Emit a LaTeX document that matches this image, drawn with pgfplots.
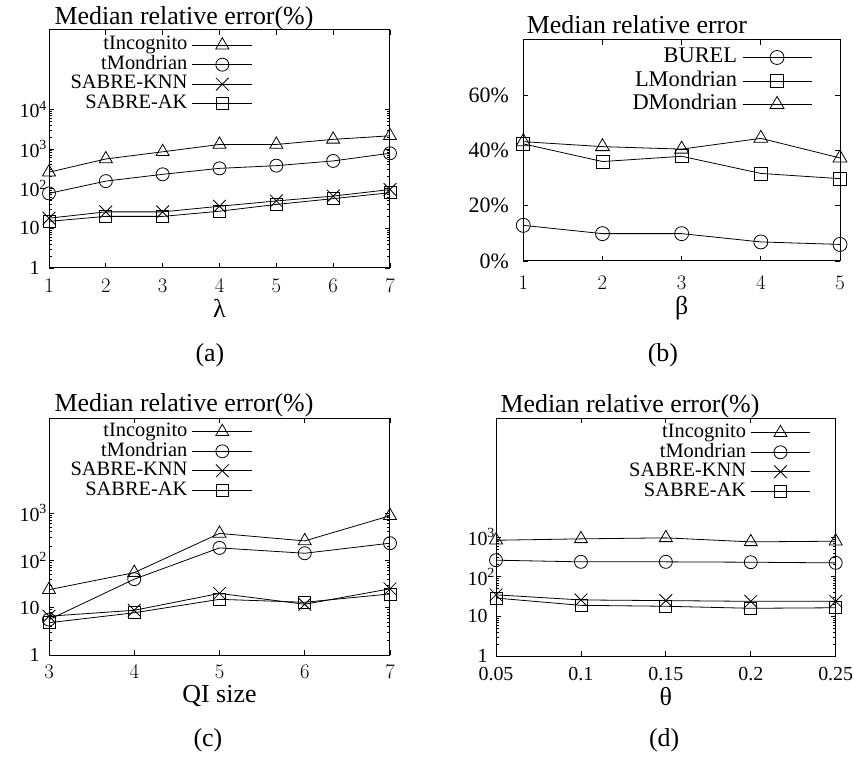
\documentclass[border=0pt]{standalone}
\usepackage{pgfplots}
\pgfplotsset{compat=1.18}
\usepackage{fontspec}
\setmainfont{Liberation Serif}

\newcommand\fs[1]{\fontsize{#1}{#1}\selectfont}
\newcommand\expo[1]{\rlap{\textsuperscript{#1}}}

\pgfplotsset{
  gp/.style={
    scale only axis,
    clip=false,
    axis line style={line width=1bp},
    tick style={line width=0.8bp, black},
    major tick length=5bp,
    tick align=inside,
    legend cell align=right,
    legend plot pos=right,
    x tick label style={font=\fs{20}},
    y tick label style={font=\fs{20}},
  },
  leg/.style 2 args={
    legend image code/.code={
      \draw[mark repeat=2, mark phase=2, ##1]
        plot coordinates {(0bp,0bp) (#1/2,0bp) (#1,0bp)};},
    legend style={draw=none, fill=none, anchor=north east, at={#2},
      font=\fs{20.5}, inner sep=0pt, row sep=0pt, column sep=4bp,
      nodes={inner sep=0.5bp, text height=14bp, text depth=4.5bp}},
  },
  ln/.style={black, line width=0.8bp, mark options={solid, black, line width=0.8bp, fill=none}},
  tri/.style={ln, mark=triangle, mark size=7.5bp},
  cir/.style={ln, mark=o, mark size=6.5bp},
  crs/.style={ln, mark=x, mark size=9bp},
  sqr/.style={ln, mark=square, mark size=6bp},
}

\begin{document}
\begin{tikzpicture}
\path[use as bounding box] (0,0) rectangle (854bp,764bp);

% (a) error against lambda
\begin{axis}[gp, at={(49bp,496bp)}, anchor=south west,
  width=341bp, height=238bp,
  xmin=1, xmax=7, xtick={1,...,7},
  ymode=log, ymin=1, ymax=1e6,
  ytick={1,10,100,1000,10000},
  yticklabels={1,10,10\expo{2},10\expo{3},10\expo{4}},
  x tick label style={yshift=-8bp},
  y tick label style={xshift=-6bp},
  leg={60bp}{(0.598,0.978)}]
\addplot[tri] coordinates {(1,260) (2,560) (3,850) (4,1300) (5,1300) (6,1750) (7,2150)};
\addlegendentry{tIncognito}
\addplot[cir] coordinates {(1,76) (2,155) (3,230) (4,325) (5,380) (6,500) (7,780)};
\addlegendentry{tMondrian}
\addplot[crs] coordinates {(1,18) (2,26) (3,26) (4,36) (5,49) (6,65) (7,95)};
\addlegendentry{SABRE-KNN}
\addplot[sqr] coordinates {(1,15) (2,20) (3,20) (4,27) (5,40) (6,56) (7,79)};
\addlegendentry{SABRE-AK}
\node[anchor=base west, font=\fs{26}, xshift=2bp, yshift=5bp] at (rel axis cs:0,1) {Median relative error(\%)};
\node[anchor=base, font=\fs{26}, yshift=-50bp] at (rel axis cs:0.5,0) {λ};
\node[anchor=base, font=\fs{26}, yshift=-93.6bp] at (rel axis cs:0.472,0) {(a)};
\end{axis}

% (b) error against beta
\begin{axis}[gp, at={(523.3bp,503bp)}, anchor=south west,
  width=316.7bp, height=221bp,
  xmin=1, xmax=5, xtick={1,...,5},
  ymin=0, ymax=80, ytick={0,20,40,60},
  yticklabels={0\%,20\%,40\%,60\%},
  x tick label style={font=\fs{22}, yshift=-12bp},
  y tick label style={font=\fs{22}, xshift=-11bp},
  leg={69bp}{(0.912,0.975)},
  legend style={font=\fs{22.5}, nodes={inner sep=1bp, text height=16bp, text depth=5.5bp}}]
\addplot[cir, mark size=7bp] coordinates {(1,12.9) (2,9.9) (3,9.9) (4,6.9) (5,6.0)};
\addlegendentry{BUREL}
\addplot[sqr, mark size=6.5bp] coordinates {(1,42.4) (2,36.0) (3,37.9) (4,31.7) (5,29.8)};
\addlegendentry{LMondrian}
\addplot[tri, mark size=8bp] coordinates {(1,43.2) (2,41.4) (3,40.5) (4,44.4) (5,37.3)};
\addlegendentry{DMondrian}
\node[anchor=base west, font=\fs{26}, yshift=6.7bp] at (rel axis cs:0,1) {Median relative error};
\node[anchor=base, font=\fs{26}, yshift=-54bp] at (rel axis cs:0.5,0) {β};
\node[anchor=base, font=\fs{26}, yshift=-100.6bp] at (rel axis cs:0.441,0) {(b)};
\end{axis}

% (c) error against QI size
\begin{axis}[gp, at={(49bp,109bp)}, anchor=south west,
  width=341bp, height=236.7bp,
  xmin=3, xmax=7, xtick={3,...,7},
  ymode=log, ymin=1, ymax=1e5,
  ytick={1,10,100,1000},
  yticklabels={1,10,10\expo{2},10\expo{3}},
  x tick label style={yshift=-7bp},
  y tick label style={xshift=-6bp},
  leg={60bp}{(0.598,0.985)}]
\addplot[tri] coordinates {(3,24) (4,55) (5,370) (6,257) (7,875)};
\addlegendentry{tIncognito}
\addplot[cir] coordinates {(3,5.6) (4,40) (5,183) (6,141) (7,230)};
\addlegendentry{tMondrian}
\addplot[crs] coordinates {(3,6.6) (4,8.8) (5,20) (6,11.8) (7,25)};
\addlegendentry{SABRE-KNN}
\addplot[sqr] coordinates {(3,4.8) (4,7.8) (5,15) (6,13) (7,19.5)};
\addlegendentry{SABRE-AK}
\node[anchor=base west, font=\fs{26}, xshift=2bp, yshift=6.6bp] at (rel axis cs:0,1) {Median relative error(\%)};
\node[anchor=base, font=\fs{26}, yshift=-47.7bp] at (rel axis cs:0.5,0) {QI size};
\node[anchor=base, font=\fs{26}, yshift=-91bp] at (rel axis cs:0.466,0) {(c)};
\end{axis}

% (d) error against theta
\begin{axis}[gp, at={(496bp,108bp)}, anchor=south west,
  width=339.7bp, height=237.7bp,
  xmin=0.05, xmax=0.25, xtick={0.05,0.1,0.15,0.2,0.25},
  xticklabels={0.05,0.1,0.15,0.2,0.25},
  ymode=log, ymin=1, ymax=1e6,
  ytick={1,10,100,1000},
  yticklabels={1,10,10\expo{2},10\expo{3}},
  x tick label style={yshift=-8bp},
  y tick label style={xshift=-5bp},
  leg={59bp}{(0.926,0.981)}]
\addplot[tri] coordinates {(0.05,835) (0.1,905) (0.15,960) (0.2,760) (0.25,790)};
\addlegendentry{tIncognito}
\addplot[cir] coordinates {(0.05,262) (0.1,238) (0.15,238) (0.2,233) (0.25,224)};
\addlegendentry{tMondrian}
\addplot[crs] coordinates {(0.05,35) (0.1,26) (0.15,25) (0.2,24) (0.25,24)};
\addlegendentry{SABRE-KNN}
\addplot[sqr] coordinates {(0.05,29) (0.1,19) (0.15,18) (0.2,16) (0.25,16.5)};
\addlegendentry{SABRE-AK}
\node[anchor=base west, font=\fs{26}, xshift=1bp, yshift=5.6bp] at (rel axis cs:0,1) {Median relative error(\%)};
\node[anchor=base, font=\fs{26}, yshift=-49bp] at (rel axis cs:0.5,0) {θ};
\node[anchor=base, font=\fs{26}, yshift=-90.6bp] at (rel axis cs:0.495,0) {(d)};
\end{axis}
\end{tikzpicture}
\end{document}
